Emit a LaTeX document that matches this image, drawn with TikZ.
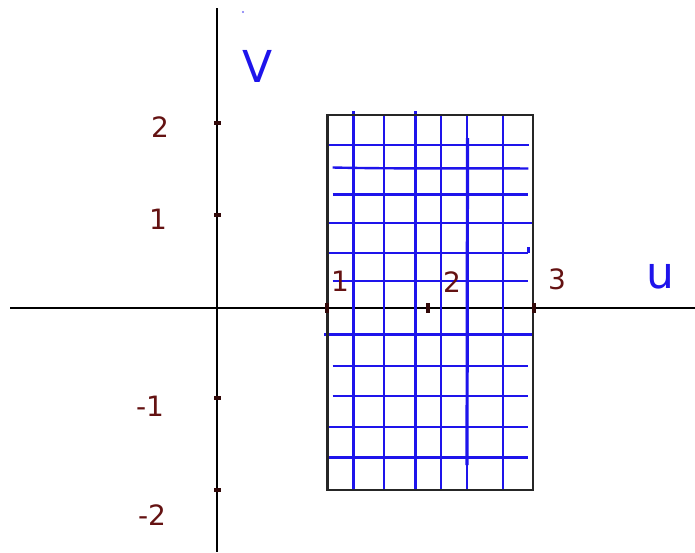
\documentclass[tikz,border=0pt]{standalone}
\usepackage{fontspec}
\setmainfont{DejaVu Sans}
\definecolor{gridblue}{RGB}{30,20,235}
\definecolor{inkred}{RGB}{100,18,18}
\tikzset{
  axis/.style={line width=2.4pt, black},
  frame/.style={line width=2.4pt, black!85},
  gline/.style={line width=2.4pt, gridblue},
  lab/.style={text=inkred, font=\fontsize{28}{30}\selectfont, inner sep=0pt},
  vlab/.style={text=gridblue, font=\fontsize{44}{46}\selectfont, inner sep=0pt},
  tick/.style={line width=4pt, inkred!50!black},
}
\begin{document}
\begin{tikzpicture}[x=1pt,y=-1pt]
\useasboundingbox (0,0) rectangle (695,552);
% axes
\coordinate (xl) at (10,308); \coordinate (xr) at (695,308);
\coordinate (yt) at (217,8);  \coordinate (yb) at (217,552);
\draw[axis] (xl) -- (xr);
\draw[axis] (yt) -- (yb);
% grid: vertical lines
\foreach \x/\t in {353.3/111,384/115,415.3/111,440.7/115,502.7/115}
  \draw[gline] (\x,\t) -- (\x,490);
\draw[gline] (467,115) -- (467,490);
\draw[gridblue, line width=3.2pt] (467.5,138) -- (467,465);
% grid: horizontal lines
\foreach \y/\a/\b in {145/327.3/529.3, 194.3/332.7/528.3, 222.7/329.3/531.7, 252.7/329.3/528.3, 281/332.7/528.3, 334.3/324/531.7, 365.7/332.7/528.3, 396/332.7/528.3, 426.7/329.3/528.3, 457.3/329.3/528.3}
  \draw[gline] (\a,\y) -- (\b,\y);
\draw[gline] (332.7,167.5) .. controls (400,169) and (460,168) .. (528.3,168.5);
\draw[gline] (528.3,252.7) -- (528.3,246.7);
% rectangle frame
\draw[frame] (327.3,114.7) rectangle (532.7,490);
% ticks
\foreach \y in {123,215,398,490}
  \draw[tick] (214,\y) -- (221,\y);
\foreach \x in {327,428,534}
  \draw[tick] (\x,303) -- (\x,313);
% labels
\node[lab] (l2) at (160,127) {2};
\node[lab] (l1) at (158,219) {1};
\node[lab] (lm1) at (150,406) {-1};
\node[lab] (lm2) at (152,515) {-2};
\node[lab] (h1) at (340,281) {1};
\node[lab] (h2) at (452,282) {2};
\node[lab] (h3) at (557,279) {3};
\node[vlab] (V) at (258,66) {V};
\node[vlab] (U) at (660,276) {u};
\fill[gridblue!60] (243,12) circle (1.2pt);
\end{tikzpicture}
\end{document}
